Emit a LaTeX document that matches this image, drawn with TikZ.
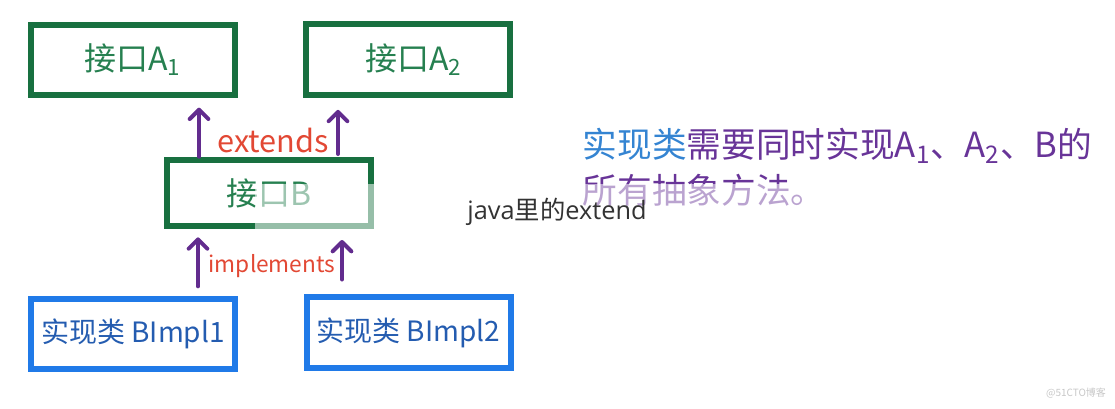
\documentclass[tikz,border=0pt]{standalone}
\usepackage{fontspec}
\setmainfont{Open Sans}
\newfontfamily\cjkfont{Noto Sans CJK SC}
\usetikzlibrary{arrows.meta}

\definecolor{boxgreen}{RGB}{24,112,64}
\definecolor{txtgreen}{RGB}{38,128,80}
\definecolor{boxblue}{RGB}{32,122,232}
\definecolor{txtblue}{RGB}{36,92,176}
\definecolor{arrpurple}{RGB}{98,44,142}
\definecolor{lblred}{RGB}{226,72,52}
\definecolor{noteblue}{RGB}{52,132,210}
\definecolor{notepurple}{RGB}{104,52,152}

\tikzset{every picture/.style={line width=0.75pt}}
\tikzset{
  ifacebox/.style={draw=boxgreen, line width=4.5pt, minimum width=153pt, minimum height=53pt,
    text=txtgreen, font=\cjkfont\fontsize{24}{28}\selectfont},
  implbox/.style={draw=boxblue, line width=4.5pt, minimum width=153pt, minimum height=53pt,
    text=txtblue, font=\cjkfont\fontsize{21}{25}\selectfont},
  uparrow/.style={draw=arrpurple, line width=3pt, line cap=round,
    -{Straight Barb[length=7pt,width=14pt,round]}},
  rellabel/.style={text=lblred, font=\cjkfont\fontsize{19}{22}\selectfont},
  notetext/.style={anchor=west, text=notepurple, font=\cjkfont\fontsize{26}{30}\selectfont},
}

\begin{document}
\begin{tikzpicture}[x=0.75pt,y=0.75pt,yscale=-1,xscale=1]
\useasboundingbox (0,0) rectangle (1115,408);

%Shape: Rectangle [interface A1]
\node[ifacebox] (a1) at (132.5,60) {接口A\textsubscript{1}};
%Shape: Rectangle [interface A2]
\node[ifacebox] (a2) at (408,59.5) {\hspace{8pt}接口A\textsubscript{2}};
%Shape: Rectangle [interface B]
\node[ifacebox, minimum height=50pt] (b) at (269,193) {接口B};
%Shape: Rectangle [class BImpl1]
\node[implbox] (bimpl1) at (133,334) {实现类 BImpl1};
%Shape: Rectangle [class BImpl2]
\node[implbox] (bimpl2) at (408.5,332.5) {实现类 BImpl2};

% x of the hand drawn arrows
\coordinate (ext1) at (199,0);
\coordinate (ext2) at (338,0);
\coordinate (imp1) at (198,0);
\coordinate (imp2) at (342,0);

%Straight Lines [extends]
\draw[uparrow, shorten >=7pt] (b.north -| ext1) -- (a1.south -| ext1);
\draw[uparrow, shorten <=2pt, shorten >=9pt] (b.north -| ext2) -- (a2.south -| ext2);
%Straight Lines [implements]
\draw[uparrow, shorten <=7pt, shorten >=6pt] (bimpl1.north -| imp1) -- (b.south -| imp1);
\draw[uparrow, shorten <=11pt, shorten >=8pt] (bimpl2.north -| imp2) -- (b.south -| imp2);

% Text Node
\node[rellabel, font=\cjkfont\fontsize{23}{26}\selectfont] (extlbl) at (273,140) {extends};
% Text Node
\node[rellabel, font=\cjkfont\fontsize{17}{20}\selectfont] (impllbl) at (272,266) {implements};

% Text Node
\node[notetext] (note1) at (578,146) {\textcolor{noteblue}{实现类}需要同时实现A\textsubscript{1}、A\textsubscript{2}、B的};
% Text Node
\node[notetext] (note2) at (578,190) {所有抽象方法。};

%Shape: Rectangle [caption band]
\fill[white, opacity=0.55] (255,184) rectangle (860,234);
% Text Node
\node[text=black!80, font=\fontsize{19}{22}\selectfont] (caption) at (557,212) {java{\cjkfont 里的}extend};

% Text Node
\node[text=black!22, font=\cjkfont\fontsize{7.5}{9}\selectfont] (mark) at (1076,393) {@51CTO博客};

\end{tikzpicture}
\end{document}
